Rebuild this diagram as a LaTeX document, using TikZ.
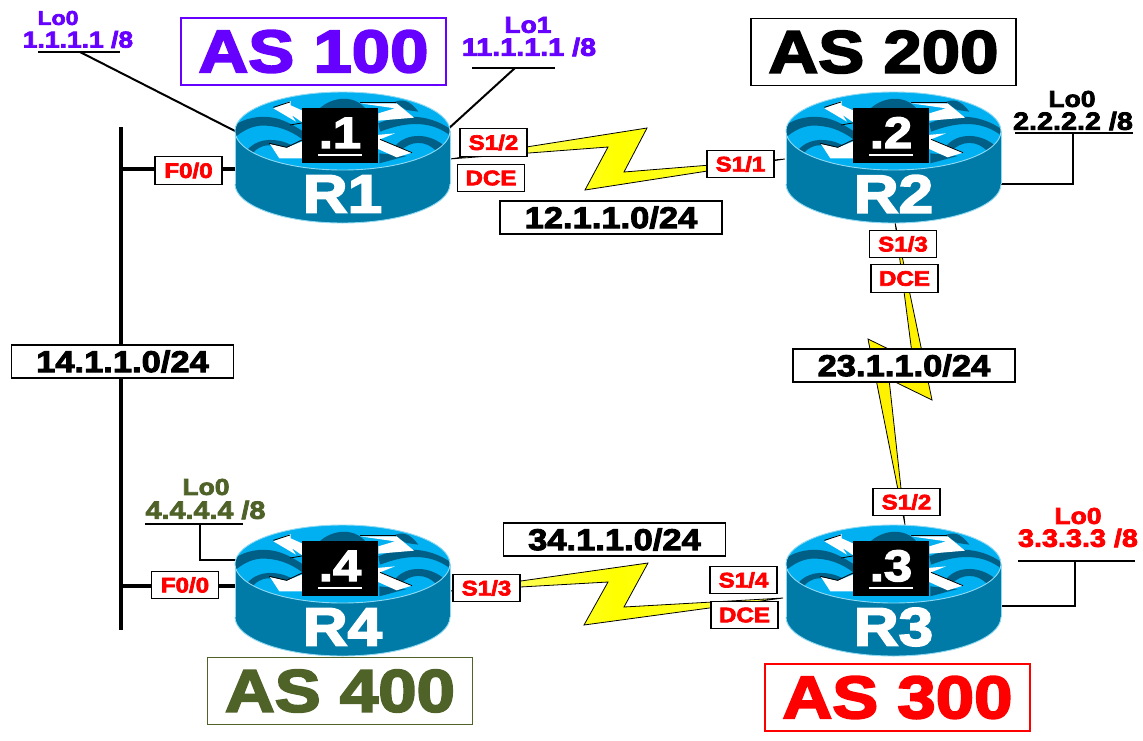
\documentclass[tikz,border=0pt]{standalone}
\usepackage{fontspec}
\setmainfont[BoldFeatures={FakeBold=3.2,FakeStretch=1.15}]{Liberation Sans}
\definecolor{asp}{HTML}{6600FF}
\definecolor{aso}{HTML}{4F6228}
\definecolor{asr}{HTML}{FF0000}
\definecolor{rbody}{HTML}{007BA7}
\definecolor{rtop}{HTML}{00B0F0}
\definecolor{rdark}{HTML}{005F86}
\definecolor{redge}{HTML}{8FD9F2}
\newcommand{\fs}[1]{\bfseries\fontsize{#1}{#1}\selectfont}
\tikzset{
 x=1pt,y=-1pt,
 asbox/.style={draw=#1,fill=white,line width=1.4pt,inner sep=0pt,minimum width=265pt,minimum height=67pt,font=\fs{60},text=#1},
 netbox/.style={draw=black,fill=white,line width=1.5pt,inner sep=0pt,minimum width=222pt,minimum height=33pt,font=\fs{30},text=black},
 ifbox/.style={draw=black,fill=white,line width=1.4pt,inner sep=0pt,minimum width=67pt,minimum height=27.5pt,font=\fs{21},text=asr},
 lotext/.style={inner sep=0pt,font=\fs{25}},
 bolt/.style={draw=black,line width=0.8pt,fill=yellow},
 hbolt/.style={draw=black,line width=0.8pt,left color=yellow!45!white,right color=yellow!70!white,middle color=yellow},
 wire/.style={draw=black,line width=2pt},
 eth/.style={draw=black,line width=4.5pt},
 lobar/.style={draw=black,line width=2.4pt},
 wave/.style={fill=rdark,draw=none},
 arrowshape/.style={fill=white,draw=none},
}
% #1 name, #2 x, #3 y, #4 number, #5 router label
\newcommand{\routerpic}[5]{%
\begin{scope}[shift={(#2,#3)},scale=1/3,shift={(-367.5,-153)}]
 \fill[rbody] (45,153) -- (45,312) arc[start angle=180,end angle=0,x radius=322.5,y radius=117] -- (690,153) -- cycle;
 \draw[redge,line width=0.9pt] (45,312) arc[start angle=180,end angle=0,x radius=322.5,y radius=117];
 \draw[redge,line width=0.5pt] (45,153) -- (45,312) (690,153) -- (690,312);
 \begin{scope}
  \clip (367.5,153) ellipse[x radius=322.5,y radius=117];
  \fill[rtop] (0,0) rectangle (735,300);
  \path[wave] (45,135) .. controls (90,105) and (150,105) .. (190,122) .. controls (215,132) and (235,145) .. (250,155) -- (250,180) .. controls (210,150) and (170,135) .. (120,137) .. controls (90,140) and (65,155) .. (45,172) -- cycle;
  \path[wave] (80,212) .. controls (105,180) and (150,172) .. (195,187) -- (250,210) -- (240,230) .. controls (200,205) and (160,190) .. (130,198) .. controls (110,205) and (100,215) .. (95,225) -- cycle;
  \path[wave] (290,95) .. controls (320,55) and (400,35) .. (440,90) -- (440,110) -- (290,110) -- cycle;
  \path[wave] (475,130) .. controls (530,105) and (620,95) .. (695,150) -- (695,170) .. controls (640,125) and (570,120) .. (480,155) -- cycle;
  \path[wave] (520,205) .. controls (550,160) and (620,155) .. (670,195) -- (650,215) .. controls (620,180) and (570,180) .. (540,215) -- cycle;
  \path[wave] (520,68) .. controls (545,55) and (570,60) .. (595,95) -- (560,90) -- cycle;
  \path[wave] (478,220) -- (560,228) -- (478,250) -- cycle;
 \end{scope}
 \path[arrowshape] (160,85) -- (212,63) -- (212,76) -- (300,115) -- (280,150) -- (215,105) -- (228,125) -- cycle;
 \draw[black,line width=0.8pt] (160,82) -- (210,66);
 \draw[black,line width=0.8pt] (210,135) -- (250,128);
 \path[arrowshape] (420,70) -- (530,70) -- (582,113) -- (475,122) -- (475,100) -- (525,85) -- cycle;
 \draw[black,line width=0.8pt] (420,68) -- (528,68);
 \path[arrowshape] (150,192) -- (200,203) -- (250,183) -- (250,235) -- (178,235) -- cycle;
 \draw[black,line width=0.8pt] (148,190) -- (200,202) -- (250,178);
 \path[arrowshape] (470,165) -- (525,160) -- (480,178) -- (576,218) -- (530,232) -- (470,205) -- cycle;
 \draw[black,line width=0.8pt] (480,178) -- (576,218);
 \draw[redge,line width=0.9pt] (367.5,153) ellipse[x radius=322.5,y radius=117];
\end{scope}
\node[fill=black,inner sep=0pt,minimum width=76pt,minimum height=55pt] (#1sq) at ($(#2,#3)+(-2.5,4.5)$) {};
\node[inner sep=0pt,font=\fs{44},text=white,anchor=base] (#1num) at ($(#2,#3)+(-2.5,17)$) {.#4};
\draw[white,line width=2.6pt] ($(#1sq.center)+(-22,19.5)$) -- ($(#1sq.center)+(22,19.5)$);
\node[inner sep=0pt,font=\fs{54},text=white] (#1) at ($(#2,#3)+(0,63)$) {#5};
}
\usetikzlibrary{calc}
\begin{document}
\begin{tikzpicture}
\useasboundingbox (0,0) rectangle (1143,740);
\fill[white] (0,0) rectangle (1143,740);
% named end points
\coordinate (lo1L) at (38,52); \coordinate (lo1R) at (120,52); \coordinate (lo1T) at (80,52); \coordinate (r1a) at (235,131);
\coordinate (lo2L) at (472,68); \coordinate (lo2R) at (555,68); \coordinate (lo2T) at (515,68); \coordinate (r1b) at (447,130);
\coordinate (lo3L) at (1015,133); \coordinate (lo3R) at (1133,133); \coordinate (lo3T) at (1073,133); \coordinate (lo3C) at (1073,184); \coordinate (r2a) at (1001,184);
\coordinate (lo4L) at (1018,561); \coordinate (lo4R) at (1135,561); \coordinate (lo4T) at (1075,561); \coordinate (lo4C) at (1075,606); \coordinate (r3a) at (1001,606);
\coordinate (lo5L) at (145,524); \coordinate (lo5R) at (243,524); \coordinate (lo5T) at (200,524); \coordinate (lo5C) at (200,560); \coordinate (r4a) at (236,560);
\coordinate (busT) at (121,127); \coordinate (busB) at (121,630);
\coordinate (bus1) at (121,169); \coordinate (r1e) at (236,169);
\coordinate (bus4) at (121,586); \coordinate (r4e) at (236,586);
% bolts
\path[hbolt] (450,159) -- (647,128) -- (624,172) -- (785,159) -- (585,190) -- (608,147) -- cycle;
\path[bolt] (895,222) -- (932,400) -- (889,379) -- (905,525) -- (868,339) -- (913,361) -- cycle;
\path[hbolt] (450,591) -- (648,563) -- (624,607) -- (783,598) -- (584,625) -- (608,582) -- cycle;
% ethernet
\draw[eth] (busT) -- (busB);
\draw[eth] (bus1) -- (r1e);
\draw[eth] (bus4) -- (r4e);
% loopbacks
\draw[wire] (lo1T) -- (r1a);
\draw[wire] (lo2T) -- (r1b);
\draw[wire] (lo3T) -- (lo3C) -- (r2a);
\draw[wire] (lo4T) -- (lo4C) -- (r3a);
\draw[wire] (lo5T) -- (lo5C) -- (r4a);
\draw[lobar] (lo1L) -- (lo1R);
\draw[lobar] (lo2L) -- (lo2R);
\draw[lobar] (lo3L) -- (lo3R);
\draw[lobar] (lo4L) -- (lo4R);
\draw[lobar] (lo5L) -- (lo5R);
% routers
\routerpic{R1}{342.5}{131}{1}{R1}
\routerpic{R2}{893.5}{131}{2}{R2}
\routerpic{R3}{893.5}{564}{3}{R3}
\routerpic{R4}{342.5}{564}{4}{R4}
% AS
\node[asbox=asp] (as1) at (313.5,51.5) {AS 100};
\node[asbox=black] (as2) at (883.5,52) {AS 200};
\node[asbox=asr] (as3) at (897.5,697.5) {AS 300};
\node[asbox=aso] (as4) at (340,691) {AS 400};
% networks
\node[netbox] (n12) at (611,217.5) {12.1.1.0/24};
\node[netbox] (n23) at (904,365.5) {23.1.1.0/24};
\node[netbox] (n34) at (614.5,539.5) {34.1.1.0/24};
\node[netbox] (n14) at (122.5,361.5) {14.1.1.0/24};
% interfaces
\node[ifbox] (i1) at (493.5,142.5) {S1/2};
\node[ifbox] (i2) at (491,178) {DCE};
\node[ifbox] (i3) at (740.5,164) {S1/1};
\node[ifbox] (i4) at (903,244) {S1/3};
\node[ifbox] (i5) at (904.5,278.5) {DCE};
\node[ifbox] (i6) at (906.5,502) {S1/2};
\node[ifbox] (i7) at (486.5,588) {S1/3};
\node[ifbox] (i8) at (743.5,580) {S1/4};
\node[ifbox] (i9) at (744.5,615) {DCE};
\node[ifbox] (i10) at (188.5,170.5) {F0/0};
\node[ifbox] (i11) at (185,585) {F0/0};
% loopback text
\node[lotext,font=\fs{20},text=asp] (t1) at (58,18) {Lo0};
\node[lotext,font=\fs{23},text=asp] (t2) at (78,39.5) {1.1.1.1 /8};
\node[lotext,font=\fs{23},text=asp] (t3) at (528,25) {Lo1};
\node[lotext,text=asp] (t4) at (529,47) {11.1.1.1 /8};
\node[lotext,font=\fs{23},text=black] (t5) at (1072,99) {Lo0};
\node[lotext,text=black] (t6) at (1073,121) {2.2.2.2 /8};
\node[lotext,font=\fs{23},text=asr] (t7) at (1078,516) {Lo0};
\node[lotext,text=asr] (t8) at (1078,538) {3.3.3.3 /8};
\node[lotext,font=\fs{23},text=aso] (t9) at (206,487) {Lo0};
\node[lotext,text=aso] (t10) at (205.5,510) {4.4.4.4 /8};
\end{tikzpicture}
\end{document}
